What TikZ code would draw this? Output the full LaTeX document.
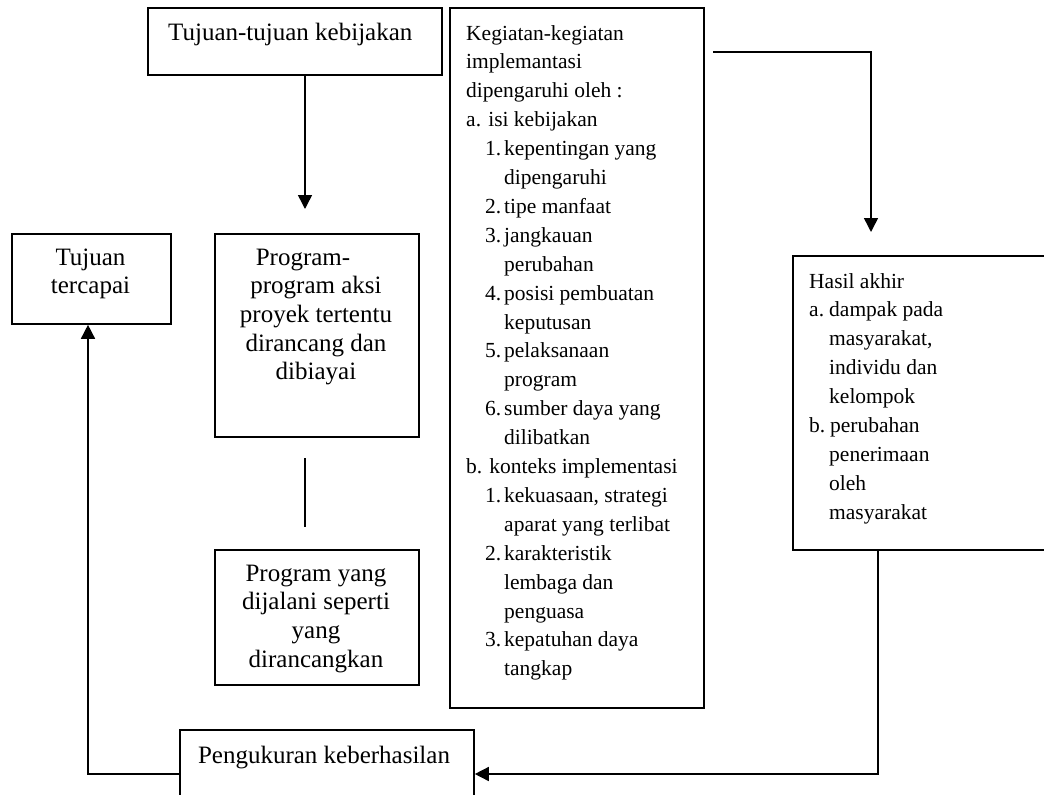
\documentclass[tikz,border=0pt]{standalone}
\usepackage{fontspec}
\setmainfont{Liberation Serif}
\usetikzlibrary{arrows.meta}

\begin{document}
\begin{tikzpicture}[x=1pt, y=-1pt,
  box/.style={draw, line width=1.8pt, rectangle, inner sep=0pt, anchor=north west},
  link/.style={line width=1.5pt},
  arr/.style={link, -{Triangle[length=14pt,width=14pt]}},
  bigtext/.style={inner sep=0pt, font=\fontsize{25}{28.7}\selectfont},
  smalltext/.style={inner sep=0pt, font=\fontsize{21.5}{28.9}\selectfont}]

  \useasboundingbox (0,0) rectangle (1044,795);
  \clip (0,0) rectangle (1044,795);

  % boxes
  \node[box, minimum width=294pt, minimum height=67pt]  (goal)    at (147,7)   {};
  \node[box, minimum width=159pt, minimum height=90pt]  (reach)   at (11,233)  {};
  \node[box, minimum width=204pt, minimum height=203pt] (prog)    at (214,233) {};
  \node[box, minimum width=204pt, minimum height=135pt] (run)     at (214,549) {};
  \node[box, minimum width=254pt, minimum height=700pt] (act)     at (449,7)   {};
  \node[box, minimum width=280pt, minimum height=294pt] (result)  at (792,255) {};
  \node[box, minimum width=294pt, minimum height=100pt] (measure) at (179,729) {};

  % texts
  \node[bigtext, anchor=base west] (goaltxt) at (168,40) {Tujuan-tujuan kebijakan};
  \node[bigtext, anchor=base] (reachtxt) at (90.5,265)
    {\parbox[t]{150pt}{\centering Tujuan\\tercapai}};
  \node[bigtext, anchor=base] (progtxt) at (316,265)
    {\parbox[t]{196pt}{\centering Program-\makebox[26pt]{}\\program aksi\\proyek tertentu\\dirancang dan\\dibiayai}};
  \node[bigtext, anchor=base] (runtxt) at (316,581)
    {\parbox[t]{196pt}{\centering Program yang\\dijalani seperti\\yang\\dirancangkan}};
  \node[bigtext, anchor=base] (measuretxt) at (324,763) {Pengukuran keberhasilan};

  \node[smalltext, anchor=base west] (acttxt) at (466,40)
    {\parbox[t]{232pt}{\raggedright
      Kegiatan-kegiatan\\
      implemantasi\\
      dipengaruhi oleh :\\
      a. isi kebijakan\\
      \hspace*{19pt}\makebox[19pt][l]{1.}kepentingan yang\\
      \hspace*{38pt}dipengaruhi\\
      \hspace*{19pt}\makebox[19pt][l]{2.}tipe manfaat\\
      \hspace*{19pt}\makebox[19pt][l]{3.}jangkauan\\
      \hspace*{38pt}perubahan\\
      \hspace*{19pt}\makebox[19pt][l]{4.}posisi pembuatan\\
      \hspace*{38pt}keputusan\\
      \hspace*{19pt}\makebox[19pt][l]{5.}pelaksanaan\\
      \hspace*{38pt}program\\
      \hspace*{19pt}\makebox[19pt][l]{6.}sumber daya yang\\
      \hspace*{38pt}dilibatkan\\
      b. konteks implementasi\\
      \hspace*{19pt}\makebox[19pt][l]{1.}kekuasaan, strategi\\
      \hspace*{38pt}aparat yang terlibat\\
      \hspace*{19pt}\makebox[19pt][l]{2.}karakteristik\\
      \hspace*{38pt}lembaga dan\\
      \hspace*{38pt}penguasa\\
      \hspace*{19pt}\makebox[19pt][l]{3.}kepatuhan daya\\
      \hspace*{38pt}tangkap}};

  \node[smalltext, anchor=base west] (resulttxt) at (809,288)
    {\parbox[t]{220pt}{\raggedright
      Hasil akhir\\
      \makebox[20pt][l]{a.}dampak pada\\
      \hspace*{20pt}masyarakat,\\
      \hspace*{20pt}individu dan\\
      \hspace*{20pt}kelompok\\
      \makebox[21pt][l]{b.}perubahan\\
      \hspace*{20pt}penerimaan\\
      \hspace*{20pt}oleh\\
      \hspace*{20pt}masyarakat}};

  % connector end points
  \coordinate (progtop) at (305,209);
  \coordinate (gapA)    at (305,458);
  \coordinate (gapB)    at (305,527);
  \coordinate (actout)  at (713,52);
  \coordinate (resin)   at (871,232);
  \coordinate (loopR)   at (878,774);
  \coordinate (loopL)   at (88,774);

  % connectors
  \draw[arr]  (goal.south -| progtop) -- (progtop);
  \draw[link] (gapA) -- (gapB);
  \draw[arr]  (actout) -| (resin);
  \draw[arr]  (result.south -| loopR) -- (loopR) -- (measure.east |- loopR);
  \draw[arr]  (measure.west |- loopL) -- (loopL) -- (reach.south -| loopL);
\end{tikzpicture}
\end{document}
